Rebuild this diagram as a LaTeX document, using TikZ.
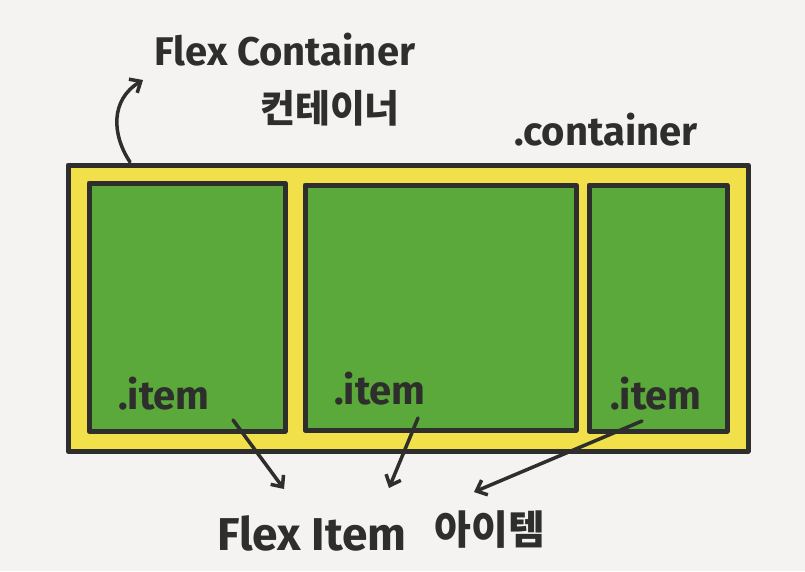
\documentclass[tikz,border=0pt]{standalone}
\usepackage{fontspec}
\setmainfont{Fira Sans}
\newfontfamily\kfont{Noto Sans CJK KR}
\usetikzlibrary{arrows.meta}
\definecolor{bgc}{HTML}{F4F3F1}
\definecolor{ink}{HTML}{2E2E2C}
\definecolor{yel}{HTML}{F2E04A}
\definecolor{grn}{HTML}{5BA83B}
\tikzset{
  boxline/.style={draw=ink, line width=5pt, line join=round},
  itembox/.style={boxline, fill=grn},
  lbl/.style={text=ink, inner sep=0pt},
  arr/.style={draw=ink, line width=3.5pt, line cap=round, -{Straight Barb[length=9pt,width=16pt,line width=3.5pt]}}
}
\begin{document}
\begin{tikzpicture}[x=1pt,y=-1pt]
\fill[bgc] (0,0) rectangle (805,571);
\useasboundingbox (0,0) rectangle (805,571);
% container
\draw[boxline, fill=yel] (68,165) rectangle (748,451);
% items
\draw[itembox] (89,183) rectangle (285,431);
\draw[itembox] (305,185) rectangle (576,430);
\draw[itembox] (589,185) rectangle (727,431);
% labels
\node[lbl, font=\bfseries\fontsize{40}{44}\selectfont] (fc) at (285,50) {Flex Container};
\node[lbl, font=\kfont\bfseries\fontsize{38}{42}\selectfont] (fck) at (330,108) {컨테이너};
\node[lbl, font=\bfseries\fontsize{40}{44}\selectfont] (dc) at (606,130) {.container};
\node[lbl, font=\bfseries\fontsize{40}{44}\selectfont] (i1) at (164,394) {.item};
\node[lbl, font=\bfseries\fontsize{40}{44}\selectfont] (i2) at (380,389) {.item};
\node[lbl, font=\bfseries\fontsize{40}{44}\selectfont] (i3) at (656,394) {.item};
\node[lbl, font=\bfseries\fontsize{46}{50}\selectfont] (fi) at (312,533) {Flex Item};
\node[lbl, font=\kfont\bfseries\fontsize{40}{44}\selectfont] (fik) at (490,530) {아이템};
% arrows
\coordinate (a1s) at (233,420); \coordinate (a1e) at (284,489);
\coordinate (a2s) at (418,418); \coordinate (a2e) at (389,488);
\coordinate (a3s) at (642,421); \coordinate (a3e) at (474,492);
\draw[arr] (a1s) -- (a1e);
\draw[arr] (a2s) -- (a2e);
\draw[arr] (a3s) -- (a3e);
\coordinate (c0) at (130,162);
\coordinate (c1) at (143,80);
\draw[arr] (c0) .. controls (112,135) and (110,100) .. (c1);
\end{tikzpicture}
\end{document}
